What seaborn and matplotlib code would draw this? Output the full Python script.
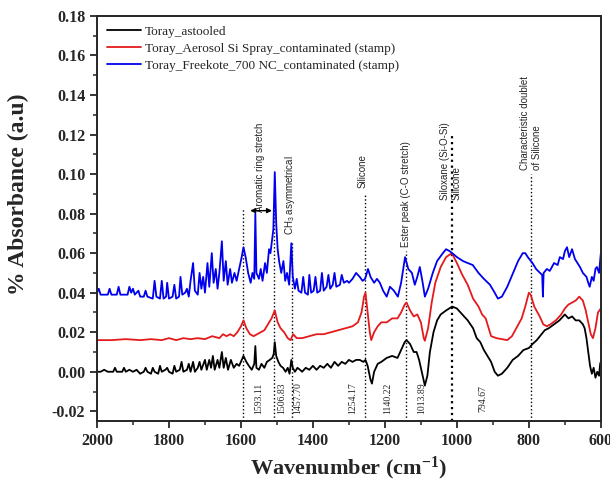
import numpy as np
import pandas as pd
import matplotlib
matplotlib.use('Agg')
import matplotlib.pyplot as plt
from matplotlib.ticker import MultipleLocator
import seaborn as sns

# Spectra (wavenumber, absorbance)
wn_astooled = [2000, 1990, 1980, 1970, 1955, 1950, 1945, 1930, 1925, 1920, 1910, 1900, 1890, 1880,
               1870, 1865, 1860, 1850, 1845, 1840, 1830, 1825, 1820, 1810, 1805, 1800, 1790, 1785,
               1780, 1770, 1765, 1760, 1750, 1745, 1740, 1733, 1728, 1720, 1715, 1710, 1700, 1695,
               1688, 1683, 1678, 1673, 1665, 1660, 1653, 1648, 1642, 1636, 1628, 1620, 1612, 1605,
               1598, 1593, 1585, 1578, 1570, 1563, 1560, 1557, 1550, 1543, 1535, 1528, 1520, 1513,
               1509, 1506, 1502, 1496, 1490, 1483, 1476, 1470, 1465, 1460, 1456, 1450, 1443, 1436,
               1430, 1420, 1410, 1400, 1390, 1380, 1370, 1360, 1350, 1340, 1330, 1320, 1310, 1300,
               1290, 1280, 1270, 1260, 1254, 1248, 1240, 1236, 1230, 1220, 1210, 1195, 1180, 1165,
               1155, 1145, 1140, 1130, 1120, 1112, 1105, 1095, 1089, 1082, 1075, 1065, 1055, 1045,
               1030, 1013, 1000, 985, 970, 955, 945, 935, 925, 915, 905, 895, 886, 875, 860, 845,
               830, 815, 800, 790, 778, 765, 756, 745, 730, 715, 700, 690, 680, 670, 660, 650, 645,
               640, 635, 630, 625, 620, 615, 610, 605, 602, 600]
abs_astooled = [0.000, 0.000, 0.001, 0.000, 0.000, 0.002, 0.000, 0.000, 0.002, 0.000, 0.001, 0.000,
                0.001, -0.001, 0.000, 0.002, 0.000, -0.001, 0.002, 0.000, -0.001, 0.003, 0.000, 0.001,
                0.002, 0.000, -0.001, 0.003, 0.000, 0.001, 0.005, 0.000, 0.001, 0.004, 0.000, 0.005,
                0.000, 0.002, 0.005, 0.001, 0.006, 0.001, 0.006, 0.002, 0.008, 0.001, 0.006, 0.002,
                0.010, 0.002, 0.007, 0.001, 0.006, 0.002, 0.004, 0.003, 0.006, 0.008, 0.005, 0.003,
                0.001, 0.004, 0.013, 0.002, 0.001, 0.004, 0.002, 0.005, 0.006, 0.007, 0.009, 0.015,
                0.008, 0.005, 0.003, 0.002, 0.000, 0.002, -0.001, 0.006, 0.002, 0.000, 0.002, 0.001,
                0.000, 0.002, 0.001, 0.003, 0.001, 0.003, 0.002, 0.004, 0.002, 0.005, 0.003, 0.005,
                0.004, 0.006, 0.005, 0.006, 0.006, 0.005, 0.006, 0.003, -0.004, -0.006, 0.000, 0.004,
                0.005, 0.007, 0.008, 0.007, 0.011, 0.015, 0.016, 0.014, 0.010, 0.010, 0.006, -0.002,
                -0.007, -0.002, 0.010, 0.020, 0.026, 0.029, 0.031, 0.033, 0.032, 0.029, 0.026, 0.022,
                0.017, 0.015, 0.011, 0.008, 0.005, 0.000, -0.002, -0.001, 0.002, 0.006, 0.008, 0.011,
                0.012, 0.014, 0.016, 0.019, 0.021, 0.022, 0.024, 0.026, 0.029, 0.027, 0.028, 0.026,
                0.026, 0.024, 0.022, 0.017, 0.010, 0.003, -0.001, 0.002, -0.003, 0.000, -0.002, 0.004,
                0.005]

wn_aerosol = [2000, 1960, 1920, 1880, 1850, 1820, 1800, 1780, 1760, 1740, 1720, 1700, 1680, 1660,
              1650, 1640, 1630, 1620, 1610, 1600, 1593, 1585, 1575, 1565, 1555, 1545, 1535, 1525,
              1515, 1506, 1498, 1490, 1480, 1470, 1462, 1455, 1445, 1430, 1410, 1390, 1370, 1350,
              1330, 1310, 1290, 1275, 1265, 1258, 1254, 1248, 1242, 1238, 1230, 1220, 1210, 1195,
              1180, 1165, 1155, 1145, 1140, 1130, 1120, 1110, 1100, 1092, 1089, 1080, 1070, 1060,
              1045, 1030, 1014, 1000, 985, 970, 955, 940, 930, 920, 905, 890, 875, 860, 847, 835,
              820, 810, 800, 795, 785, 770, 760, 750, 740, 725, 710, 700, 690, 680, 670, 660, 650,
              642, 635, 628, 622, 615, 608, 600]
abs_aerosol = [0.016, 0.016, 0.0165, 0.016, 0.0165, 0.016, 0.017, 0.016, 0.017, 0.0165, 0.017, 0.0165,
               0.018, 0.017, 0.019, 0.018, 0.019, 0.018, 0.020, 0.023, 0.026, 0.022, 0.019, 0.018,
               0.019, 0.020, 0.021, 0.024, 0.027, 0.031, 0.025, 0.022, 0.020, 0.017, 0.016, 0.019,
               0.017, 0.017, 0.018, 0.019, 0.019, 0.020, 0.021, 0.022, 0.023, 0.025, 0.030, 0.038,
               0.040, 0.030, 0.020, 0.016, 0.020, 0.023, 0.025, 0.025, 0.027, 0.027, 0.030, 0.034,
               0.035, 0.031, 0.028, 0.029, 0.025, 0.017, 0.0157, 0.022, 0.035, 0.045, 0.053, 0.058,
               0.060, 0.055, 0.049, 0.044, 0.037, 0.033, 0.029, 0.027, 0.018, 0.017, 0.0165, 0.016,
               0.018, 0.022, 0.027, 0.033, 0.040, 0.039, 0.033, 0.028, 0.024, 0.023, 0.024, 0.026,
               0.029, 0.032, 0.034, 0.035, 0.036, 0.038, 0.036, 0.031, 0.025, 0.019, 0.017, 0.022,
               0.030, 0.032]

wn_freekote = [2000, 1995, 1990, 1970, 1965, 1960, 1945, 1940, 1935, 1915, 1910, 1905, 1900, 1895,
               1885, 1880, 1870, 1865, 1860, 1845, 1840, 1835, 1825, 1820, 1815, 1808, 1805, 1800,
               1790, 1785, 1780, 1772, 1768, 1763, 1755, 1750, 1745, 1740, 1733, 1728, 1720, 1715,
               1710, 1705, 1700, 1693, 1688, 1681, 1676, 1670, 1665, 1660, 1653, 1648, 1642, 1637,
               1630, 1625, 1618, 1612, 1605, 1598, 1593, 1587, 1580, 1573, 1568, 1563, 1560, 1557,
               1550, 1545, 1540, 1533, 1528, 1522, 1518, 1514, 1510, 1506, 1502, 1498, 1494, 1488,
               1482, 1477, 1472, 1466, 1460, 1456, 1450, 1445, 1440, 1432, 1427, 1422, 1414, 1410,
               1405, 1398, 1393, 1388, 1380, 1375, 1370, 1362, 1357, 1352, 1345, 1340, 1335, 1325,
               1320, 1314, 1305, 1300, 1290, 1280, 1270, 1262, 1255, 1247, 1240, 1230, 1222, 1214,
               1205, 1195, 1186, 1175, 1164, 1155, 1144, 1135, 1125, 1117, 1110, 1103, 1095, 1089,
               1080, 1067, 1055, 1039, 1030, 1020, 1013, 1000, 983, 970, 956, 940, 925, 908, 895,
               886, 875, 860, 844, 830, 817, 810, 803, 790, 780, 769, 763, 761, 759, 750, 742, 730,
               720, 714, 705, 700, 694, 688, 680, 672, 665, 658, 650, 640, 635, 631, 625, 620, 615,
               611, 605, 600]
abs_freekote = [0.040, 0.042, 0.039, 0.039, 0.042, 0.039, 0.039, 0.043, 0.039, 0.039, 0.043, 0.040,
                0.042, 0.039, 0.041, 0.038, 0.038, 0.041, 0.038, 0.037, 0.046, 0.038, 0.037, 0.046,
                0.037, 0.038, 0.045, 0.037, 0.038, 0.044, 0.037, 0.038, 0.048, 0.039, 0.040, 0.042,
                0.038, 0.046, 0.055, 0.041, 0.039, 0.050, 0.042, 0.048, 0.040, 0.055, 0.043, 0.060,
                0.045, 0.052, 0.042, 0.050, 0.066, 0.046, 0.056, 0.044, 0.052, 0.045, 0.050, 0.046,
                0.052, 0.058, 0.063, 0.058, 0.050, 0.045, 0.050, 0.047, 0.080, 0.050, 0.047, 0.052,
                0.046, 0.055, 0.050, 0.062, 0.060, 0.066, 0.072, 0.101, 0.075, 0.062, 0.056, 0.050,
                0.056, 0.046, 0.050, 0.044, 0.065, 0.048, 0.042, 0.047, 0.041, 0.040, 0.048, 0.040,
                0.039, 0.049, 0.040, 0.041, 0.048, 0.040, 0.041, 0.050, 0.041, 0.043, 0.049, 0.042,
                0.044, 0.050, 0.043, 0.044, 0.049, 0.045, 0.046, 0.045, 0.047, 0.050, 0.048, 0.046,
                0.047, 0.052, 0.048, 0.045, 0.047, 0.045, 0.041, 0.038, 0.043, 0.041, 0.038, 0.045,
                0.058, 0.052, 0.050, 0.044, 0.048, 0.053, 0.045, 0.038, 0.042, 0.050, 0.056, 0.060,
                0.062, 0.061, 0.060, 0.058, 0.056, 0.055, 0.054, 0.050, 0.047, 0.044, 0.040, 0.037,
                0.038, 0.043, 0.050, 0.056, 0.060, 0.060, 0.058, 0.055, 0.052, 0.050, 0.049, 0.038,
                0.050, 0.052, 0.051, 0.055, 0.054, 0.058, 0.057, 0.061, 0.063, 0.058, 0.062, 0.057,
                0.055, 0.053, 0.050, 0.048, 0.045, 0.043, 0.048, 0.046, 0.052, 0.053, 0.050, 0.060]

series_names = ['Toray_astooled',
                'Toray_Aerosol Si Spray_contaminated (stamp)',
                'Toray_Freekote_700 NC_contaminated (stamp)']
series_colors = ['black', '#e41a1c', '#0000ee']

# Marked peaks: position, top of dotted line, text label position
peak_wn = [1593.11, 1506.83, 1457.70, 1254.17, 1140.22, 1013.89, 794.67]
peak_top = [0.083, 0.090, 0.066, 0.090, 0.061, 0.121, 0.100]
peak_label_x = [1550, 1487, 1442, 1290, 1192, 1098, 928]

band_text = ['Aromatic ring stretch', 'CH$_3$ asymmetrical', 'Silicone', 'Ester peak (C-O stretch)',
             'Siloxane (Si-O-Si)', 'Silicone', 'Characteristic doublet', 'of Silicone']
band_x = [1547, 1464, 1261, 1142, 1033, 1000, 811, 778]
band_y = [0.081, 0.069, 0.093, 0.063, 0.087, 0.087, 0.102, 0.102]

df = pd.concat([
    pd.DataFrame({'wn': wn_astooled, 'absorbance': abs_astooled, 'sample': series_names[0]}),
    pd.DataFrame({'wn': wn_aerosol, 'absorbance': abs_aerosol, 'sample': series_names[1]}),
    pd.DataFrame({'wn': wn_freekote, 'absorbance': abs_freekote, 'sample': series_names[2]}),
])

sns.set_style('ticks')
plt.rcParams['font.family'] = ['Liberation Serif', 'DejaVu Serif']
plt.rcParams['mathtext.default'] = 'regular'

fig = plt.figure(figsize=(6.1, 4.83), dpi=100)
ax = fig.add_axes([0.159, 0.128, 0.826, 0.839])

sns.lineplot(data=df, x='wn', y='absorbance', hue='sample', hue_order=series_names,
             palette=series_colors, sort=False, estimator=None, linewidth=1.3, ax=ax)

# dotted marker lines
for w, top in zip(peak_wn, peak_top):
    lw = 1.6 if w == 1013.89 else 1.0
    ax.plot([w, w], [-0.025, top], linestyle=':', color='black', linewidth=lw, zorder=1)

for w, lx in zip(peak_wn, peak_label_x):
    ax.text(lx, -0.0135, f'{w:.2f}', rotation=90, ha='center', va='center', fontsize=7)

for t, x, y in zip(band_text, band_x, band_y):
    ax.text(x, y, t, rotation=90, ha='center', va='bottom', fontsize=7,
            family=['Liberation Sans', 'DejaVu Sans'])

ax.annotate('', xy=(1582, 0.0815), xytext=(1506, 0.0815),
            arrowprops=dict(arrowstyle='<|-|>', color='black', lw=1.0, mutation_scale=7))

ax.set_xlim(2000, 600)
ax.set_ylim(-0.025, 0.18)
ax.xaxis.set_major_locator(MultipleLocator(200))
ax.xaxis.set_minor_locator(MultipleLocator(100))
ax.yaxis.set_major_locator(MultipleLocator(0.02))
ax.yaxis.set_minor_locator(MultipleLocator(0.01))
ax.yaxis.set_major_formatter(plt.FuncFormatter(lambda v, p: f'{v:.2f}'))
ax.tick_params(which='major', direction='out', length=5, width=1.3, labelsize=11.5)
ax.tick_params(which='minor', direction='out', length=3, width=1.1)
for lab in ax.get_xticklabels() + ax.get_yticklabels():
    lab.set_fontweight('bold')
for s in ax.spines.values():
    s.set_visible(True)
    s.set_linewidth(1.4)

ax.set_xlabel('Wavenumber (cm$^{\\mathregular{-1}}$)', fontsize=16, fontweight='bold')
ax.set_ylabel('% Absorbance (a.u)', fontsize=17, fontweight='bold')
ax.yaxis.set_label_coords(-0.135, 0.56)

leg = ax.legend(loc='upper left', frameon=False, fontsize=9.5, handlelength=2.6,
                handletextpad=0.3, labelspacing=0.35, borderaxespad=0.35)
for line in leg.get_lines():
    line.set_linewidth(1.3)

fig.savefig('out.png', dpi=100)
